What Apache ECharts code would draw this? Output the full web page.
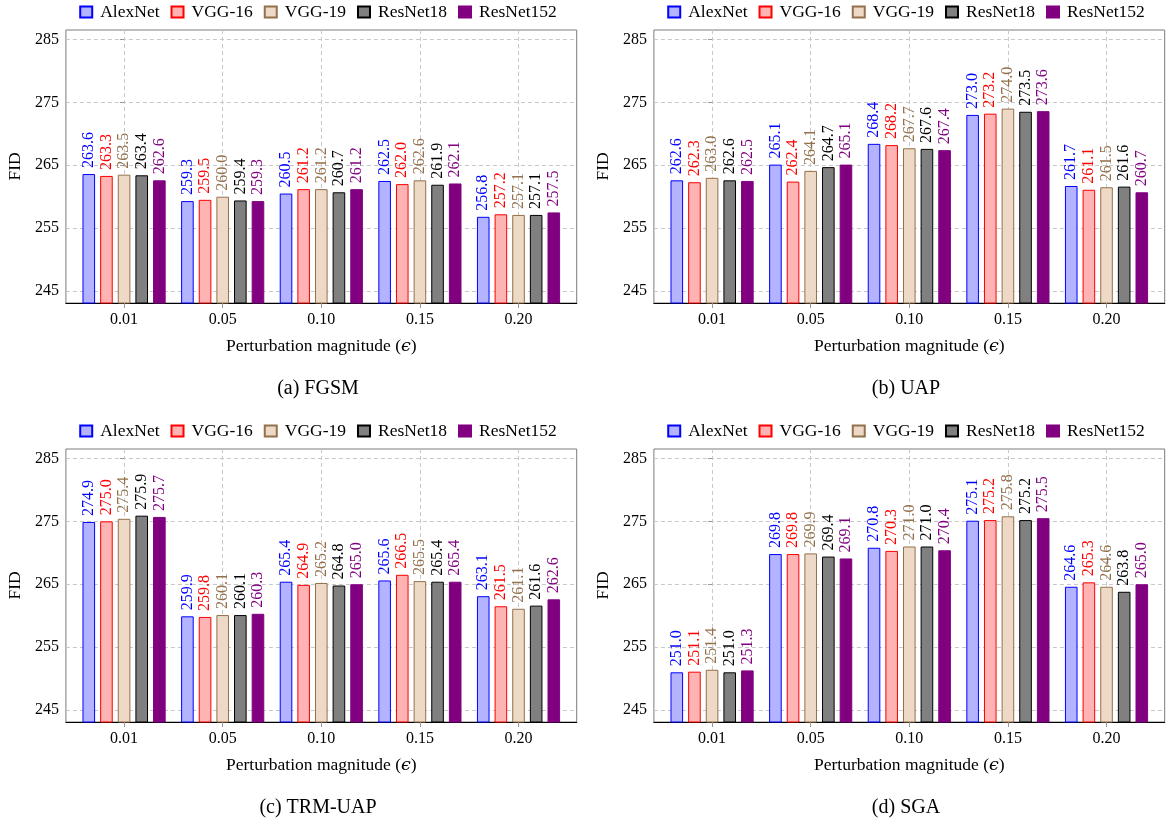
<!DOCTYPE html>
<html><head><meta charset="utf-8">
<script src="https://cdn.jsdelivr.net/npm/echarts@6/dist/echarts.min.js"></script>
<style>
html,body{margin:0;padding:0;width:1167px;height:825px;overflow:hidden;background:#fff;}
.p{position:absolute;width:640px;height:419px;}
</style></head><body>
<div id="pa" class="p" style="left:-2px;top:0px"></div>
<div id="pb" class="p" style="left:585.7px;top:0px"></div>
<div id="pc" class="p" style="left:-2px;top:419px"></div>
<div id="pd" class="p" style="left:585.7px;top:419px"></div>
<script>
const categories = ['0.01', '0.05', '0.10', '0.15', '0.20'];
const models = ['AlexNet', 'VGG-16', 'VGG-19', 'ResNet18', 'ResNet152'];
const yTicks = [245, 255, 265, 275, 285];
// rows: AlexNet, VGG-16, VGG-19, ResNet18, ResNet152
const fgsmValues = [
  [263.6, 259.3, 260.5, 262.5, 256.8],
  [263.3, 259.5, 261.2, 262.0, 257.2],
  [263.5, 260.0, 261.2, 262.6, 257.1],
  [263.4, 259.4, 260.7, 261.9, 257.1],
  [262.6, 259.3, 261.2, 262.1, 257.5]
];
const uapValues = [
  [262.6, 265.1, 268.4, 273.0, 261.7],
  [262.3, 262.4, 268.2, 273.2, 261.1],
  [263.0, 264.1, 267.7, 274.0, 261.5],
  [262.6, 264.7, 267.6, 273.5, 261.6],
  [262.5, 265.1, 267.4, 273.6, 260.7]
];
const trmUapValues = [
  [274.9, 259.9, 265.4, 265.6, 263.1],
  [275.0, 259.8, 264.9, 266.5, 261.5],
  [275.4, 260.1, 265.2, 265.5, 261.1],
  [275.9, 260.1, 264.8, 265.4, 261.6],
  [275.7, 260.3, 265.0, 265.4, 262.6]
];
const sgaValues = [
  [251.0, 269.8, 270.8, 275.1, 264.6],
  [251.1, 269.8, 270.3, 275.2, 265.3],
  [251.4, 269.9, 271.0, 275.8, 264.6],
  [251.0, 269.4, 271.0, 275.2, 263.8],
  [251.3, 269.1, 270.4, 275.5, 265.0]
];
const captions = ['(a) FGSM', '(b) UAP', '(c) TRM-UAP', '(d) SGA'];

const fills = ['#b3b3ff', '#ffb3b3', '#edd9c6', '#808080', '#800080'];
const borders = ['#0000ff', '#ff0000', '#93714c', '#000000', '#800080'];
const labelColors = ['#0000ff', '#ff0000', '#93714c', '#000000', '#800080'];
const FF = "'Liberation Serif', 'DejaVu Serif', serif";

function makeOption(values, caption) {
  return {
    animation: false,
    title: {
      text: caption, left: 'center', top: 379, padding: 0,
      textStyle: {fontSize: 20, fontWeight: 'normal', fontFamily: FF, color: '#000'}
    },
    legend: {
      data: models, left: 'center', top: 3, padding: 0, icon: 'rect',
      itemWidth: 12, itemHeight: 11, itemGap: 11,
      textStyle: {fontSize: 17.5, fontFamily: FF, color: '#000', padding: [0, 0, 0, 3]}
    },
    grid: {
      left: 61.3, top: 30, width: 517.4, height: 273,
      show: true, borderColor: '#7c7c7c', borderWidth: 1, backgroundColor: 'transparent'
    },
    xAxis: {
      type: 'value', min: -0.59, max: 4.59,
      axisLine: {show: true, lineStyle: {color: '#000', width: 1.2}},
      axisTick: {show: true, length: 5, customValues: [0, 1, 2, 3, 4], lineStyle: {color: '#999'}},
      axisLabel: {
        customValues: [0, 1, 2, 3, 4], margin: 9, fontSize: 16, fontFamily: FF, color: '#000',
        formatter: v => categories[Math.round(v)]
      },
      splitLine: {show: true, lineStyle: {type: [4, 3], color: '#c8c8c8', width: 1}},
      name: 'Perturbation magnitude ({e|ϵ})', nameLocation: 'middle', nameGap: 34,
      nameTextStyle: {fontSize: 17.5, fontFamily: FF, color: '#000',
        rich: {e: {fontSize: 17.5, fontFamily: "'DejaVu Serif', serif", fontStyle: 'italic', color: '#000'}}}
    },
    yAxis: {
      type: 'value', min: 243.1, max: 286.5,
      axisLine: {show: false},
      axisTick: {show: true, length: 4, customValues: yTicks, lineStyle: {color: '#999'}},
      axisLabel: {customValues: yTicks, margin: 7, fontSize: 16, fontFamily: FF, color: '#000'},
      splitLine: {show: true, lineStyle: {type: [4, 3], color: '#c8c8c8', width: 1}},
      name: 'FID', nameLocation: 'middle', nameGap: 32,
      nameTextStyle: {fontSize: 17.5, fontFamily: FF, color: '#000'}
    },
    series: models.map((m, i) => ({
      type: 'bar', name: m,
      data: values[i].map((v, k) => [k, v]),
      barWidth: 12.6, barGap: '40%',
      itemStyle: {color: fills[i], borderColor: borders[i], borderWidth: 1},
      label: {
        show: true, position: 'top', rotate: 90, align: 'left', verticalAlign: 'middle',
        distance: 6, fontSize: 16, fontFamily: FF, color: labelColors[i],
        formatter: p => p.value[1].toFixed(1)
      }
    }))
  };
}

const panels = [['pa', fgsmValues], ['pb', uapValues], ['pc', trmUapValues], ['pd', sgaValues]];
panels.forEach(([id, vals], idx) => {
  const c = echarts.init(document.getElementById(id), null, {renderer: 'canvas'});
  c.setOption(makeOption(vals, captions[idx]));
});
</script>
</body></html>
